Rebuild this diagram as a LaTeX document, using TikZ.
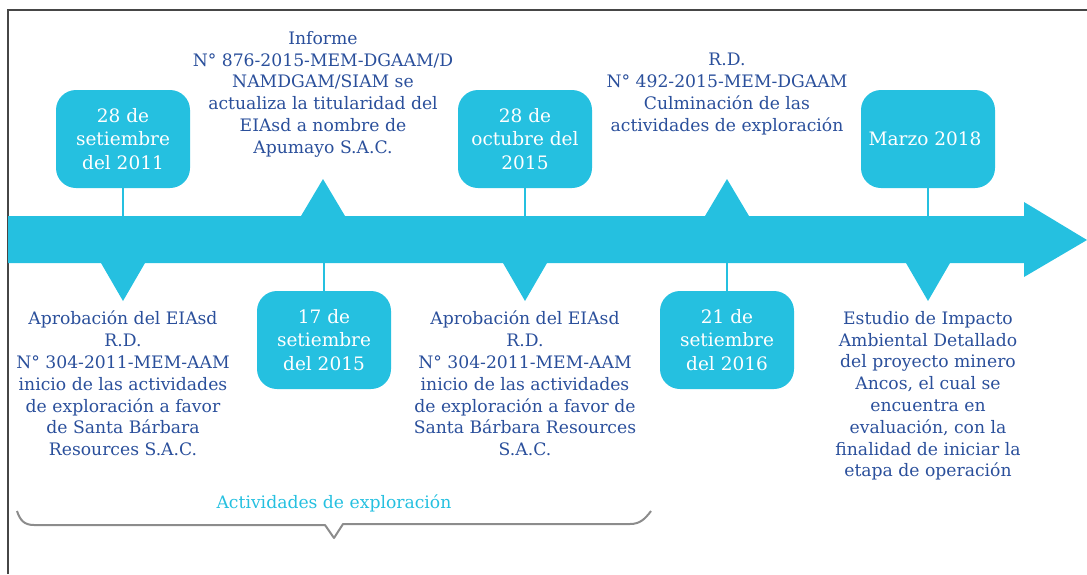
\documentclass[tikz,border=0pt]{standalone}
\usepackage{fontspec}
\setmainfont{DejaVu Serif}
\usetikzlibrary{positioning}
\definecolor{tlcyan}{RGB}{37,192,224}
\definecolor{tlblue}{RGB}{42,79,155}
\definecolor{tlgray}{RGB}{140,140,140}
\definecolor{tlframe}{RGB}{70,70,70}

\begin{document}
\begin{tikzpicture}[x=1pt,y=-1pt]
\tikzstyle{date}=[rectangle, fill=tlcyan, rounded corners=20pt, minimum width=134pt, minimum height=98pt,
        inner sep=0pt, align=center, text=white, font=\fontsize{18.5}{23.5}\selectfont]
\tikzstyle{note}=[anchor=north, inner sep=0pt, align=center, text=tlblue, font=\fontsize{17.2}{21.8}\selectfont]
\tikzstyle{stem}=[-, draw=tlcyan, line width=2pt]
\tikzstyle{marker}=[fill=tlcyan]
\tikzstyle{brace}=[draw=tlgray, line width=2pt, line join=round]
\tikzstyle{frame}=[draw=tlframe, line width=1.5pt]

\def \bandup {216}
\def \banddown {263}
\def \upper {139}
\def \lower {340}

\useasboundingbox (0,0) rectangle (1087,574);

\draw[frame] (8,574) -- (8,10) -- (1087,10);

\fill[tlcyan] (8,\bandup) -- (1024,\bandup) -- (1024,202) -- (1087,240) -- (1024,277)
        -- (1024,\banddown) -- (8,\banddown) -- cycle;
\coordinate (bandtop) at (0,\bandup);
\coordinate (bandbot) at (0,\banddown);

\fill[marker] (101,\banddown) -- (145,\banddown) -- (123,301) -- cycle;
\fill[marker] (301,\bandup) -- (345,\bandup) -- (323,179) -- cycle;
\fill[marker] (503,\banddown) -- (547,\banddown) -- (525,301) -- cycle;
\fill[marker] (705,\bandup) -- (749,\bandup) -- (727,179) -- cycle;
\fill[marker] (906,\banddown) -- (950,\banddown) -- (928,301) -- cycle;

    \node (d2011) [date] at (123,\upper){
            28 de\\
            setiembre\\
            del 2011
    };

    \node (d2015s) [date] at (324,\lower){
            17 de\\
            setiembre\\
            del 2015
    };

    \node (d2015o) [date] at (525,\upper){
            28 de\\
            octubre del\\
            2015
    };

    \node (d2016) [date] at (727,\lower){
            21 de\\
            setiembre\\
            del 2016
    };

    \node (d2018) [date] at (928,\upper){
            Marzo 2018
    };

    \node (informe) [note] at (323,31){
            Informe\\
            N° 876-2015-MEM-DGAAM/D\\
            NAMDGAM/SIAM se\\
            actualiza la titularidad del\\
            EIAsd a nombre de\\
            Apumayo S.A.C.
    };

    \node (culmina) [note] at (727,53){
            R.D.\\
            N° 492-2015-MEM-DGAAM\\
            Culminación de las\\
            actividades de exploración
    };

    \node (aprob1) [note] at (123,311){
            Aprobación del EIAsd\\
            R.D.\\
            N° 304-2011-MEM-AAM\\
            inicio de las actividades\\
            de exploración a favor\\
            de Santa Bárbara\\
            Resources S.A.C.
    };

    \node (aprob2) [note] at (525,311){
            Aprobación del EIAsd\\
            R.D.\\
            N° 304-2011-MEM-AAM\\
            inicio de las actividades\\
            de exploración a favor de\\
            Santa Bárbara Resources\\
            S.A.C.
    };

    \node (estudio) [note] at (928,311){
            Estudio de Impacto\\
            Ambiental Detallado\\
            del proyecto minero\\
            Ancos, el cual se\\
            encuentra en\\
            evaluación, con la\\
            finalidad de iniciar la\\
            etapa de operación
    };

    \node (activ) [text=tlcyan, inner sep=0pt, font=\fontsize{17.2}{20}\selectfont] at (334,503){Actividades de exploración};

\path[stem] (d2011) edge (d2011 |- bandtop);
\path[stem] (d2015o) edge (d2015o |- bandtop);
\path[stem] (d2018) edge (d2018 |- bandtop);
\path[stem] (d2015s) edge (d2015s |- bandbot);
\path[stem] (d2016) edge (d2016 |- bandbot);

\draw[brace] (17,511) .. controls (20,520) and (24,525) .. (34,525) -- (325,525) -- (334,538)
        -- (343,524) -- (630,524) .. controls (640,524) and (645,519) .. (651,511);

\end{tikzpicture}
\end{document}
